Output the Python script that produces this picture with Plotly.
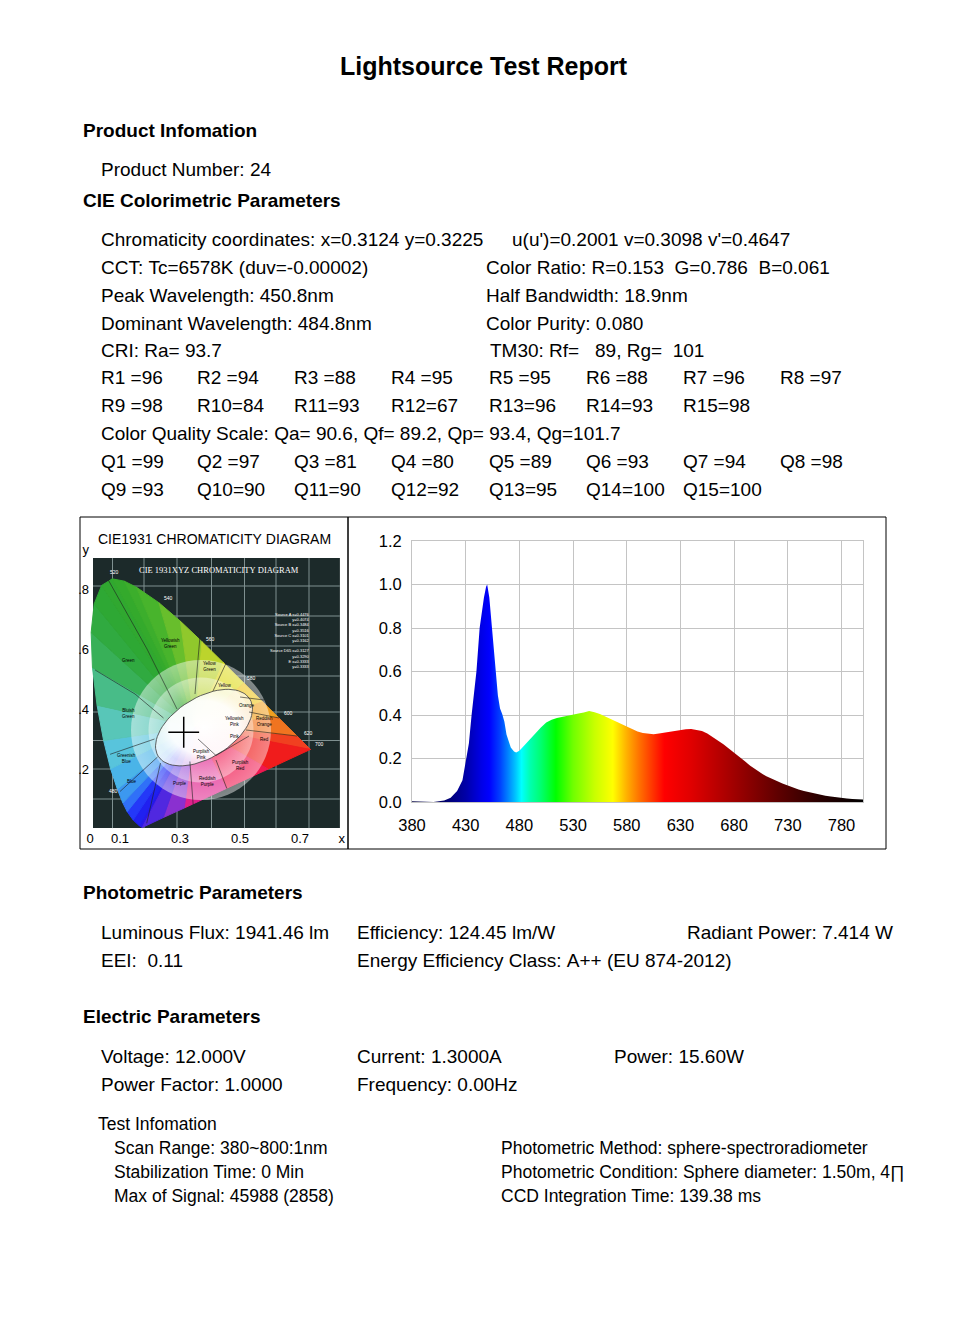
import numpy as np
import plotly.graph_objects as go

# ---- report values ----
title = "Lightsource Test Report"
headers = ["Product Infomation", "CIE Colorimetric Parameters",
           "Photometric Parameters", "Electric Parameters"]
product_number = "Product Number: 24"

colorimetric_left = ["Chromaticity coordinates: x=0.3124 y=0.3225",
                     "CCT: Tc=6578K (duv=-0.00002)",
                     "Peak Wavelength: 450.8nm",
                     "Dominant Wavelength: 484.8nm",
                     "CRI: Ra= 93.7"]
colorimetric_right = ["u(u')=0.2001 v=0.3098 v'=0.4647",
                      "Color Ratio: R=0.153  G=0.786  B=0.061",
                      "Half Bandwidth: 18.9nm",
                      "Color Purity: 0.080",
                      "TM30: Rf=   89, Rg=  101"]
r_values = [96, 94, 88, 95, 95, 88, 96, 97, 98, 84, 93, 67, 96, 93, 98]
cqs_line = "Color Quality Scale: Qa= 90.6, Qf= 89.2, Qp= 93.4, Qg=101.7"
q_values = [99, 97, 81, 80, 89, 93, 94, 98, 93, 90, 90, 92, 95, 100, 100]

photometric = ["Luminous Flux: 1941.46 lm", "Efficiency: 124.45 lm/W",
               "Radiant Power: 7.414 W", "EEI:  0.11",
               "Energy Efficiency Class: A++ (EU 874-2012)"]
electric = ["Voltage: 12.000V", "Current: 1.3000A", "Power: 15.60W",
            "Power Factor: 1.0000", "Frequency: 0.00Hz"]
test_title = "Test Infomation"
test_left = ["Scan Range: 380~800:1nm", "Stabilization Time: 0 Min",
             "Max of Signal: 45988 (2858)"]
test_right = ["Photometric Method: sphere-spectroradiometer",
              "Photometric Condition: Sphere diameter: 1.50m, 4\u220f",
              "CCD Integration Time: 139.38 ms"]

# ---- relative spectrum ----
wavelength = [380, 384, 388, 395, 400, 405, 410, 416, 422, 427, 430.5, 433,
              435.5, 438, 440, 443, 445, 447, 449, 450, 452, 454, 456, 458, 460,
              462, 464, 466, 468, 470, 472, 475, 477, 480, 485, 490, 495, 500,
              505, 510, 515, 520, 525, 530, 535, 540, 545, 550, 555, 560, 565,
              570, 575, 580, 585, 590, 595, 600, 605, 610, 615, 620, 625, 630,
              635, 640, 645, 650, 655, 660, 665, 670, 675, 680, 685, 690, 695,
              700, 705, 710, 715, 720, 725, 730, 735, 740, 745, 750, 755, 760,
              765, 770, 775, 780, 785, 790, 795, 800]
relative = [0.004, 0.003, 0.0, 0.0, 0.0, 0.004, 0.007, 0.02, 0.05, 0.10, 0.20,
            0.27, 0.40, 0.52, 0.60, 0.80, 0.88, 0.94, 0.99, 1.0, 0.94, 0.83,
            0.72, 0.60, 0.49, 0.43, 0.405, 0.37, 0.31, 0.28, 0.25, 0.232,
            0.228, 0.236, 0.262, 0.29, 0.318, 0.343, 0.365, 0.378, 0.386,
            0.392, 0.397, 0.402, 0.407, 0.412, 0.418, 0.413, 0.405, 0.393,
            0.382, 0.37, 0.358, 0.347, 0.335, 0.324, 0.317, 0.313, 0.312,
            0.315, 0.319, 0.324, 0.328, 0.332, 0.335, 0.336, 0.333, 0.327,
            0.315, 0.30, 0.284, 0.266, 0.246, 0.225, 0.206, 0.187, 0.167,
            0.148, 0.133, 0.118, 0.106, 0.095, 0.085, 0.076, 0.066, 0.057,
            0.050, 0.044, 0.039, 0.034, 0.029, 0.025, 0.021, 0.018, 0.016,
            0.014, 0.012, 0.011]

# ---- CIE 1931 chromaticity ----
chroma_x, chroma_y = 0.3124, 0.3225
locus_nm = [380, 440, 460, 470, 475, 480, 485, 490, 495, 500, 505, 510, 515,
            520, 525, 530, 540, 550, 560, 570, 580, 590, 600, 620, 700]
locus_x = [0.1741, 0.1644, 0.1440, 0.1241, 0.1096, 0.0913, 0.0687, 0.0454,
           0.0235, 0.0082, 0.0039, 0.0139, 0.0389, 0.0743, 0.1142, 0.1547,
           0.2296, 0.3016, 0.3731, 0.4441, 0.5125, 0.5752, 0.6270, 0.6915,
           0.7347]
locus_y = [0.0050, 0.0109, 0.0297, 0.0578, 0.0868, 0.1327, 0.2007, 0.2950,
           0.4127, 0.5384, 0.6548, 0.7502, 0.8120, 0.8338, 0.8262, 0.8059,
           0.7543, 0.6923, 0.6245, 0.5547, 0.4866, 0.4242, 0.3725, 0.3083,
           0.2653]
purple_x = [0.594, 0.454, 0.314, 0.244]
purple_y = [0.200, 0.135, 0.070, 0.038]

# ---- styling ----
FONT = "Liberation Sans, Arial, sans-serif"
W, H = 968, 1331

locus_colors = ["#2818e8", "#2020f0", "#2438f8", "#3070f8", "#3c98f0", "#4ab4e8",
                "#58c4dc", "#58c6b8", "#48bc88", "#38b058", "#30aa40", "#2ea834",
                "#30a830", "#34aa2c", "#3cae2c", "#48b42c", "#68be2c", "#90c82c",
                "#bcd42c", "#e0dc24", "#f0c820", "#f0a020", "#f07420", "#f04020",
                "#f01c1c"]
purple_colors = ["#f01850", "#e0208c", "#8a30d0", "#5028e0"]

spec_stops = [(380, "#000040"), (410, "#000068"), (430, "#0000a8"), (445, "#0000e8"),
              (452, "#0000ff"), (462, "#0040ff"), (470, "#0088ff"), (476, "#00c0ff"),
              (482, "#00ffff"), (490, "#00ffb0"), (500, "#00ff70"), (514, "#00ff00"),
              (530, "#70ff00"), (550, "#c8ff00"), (567, "#ffff00"), (580, "#ffb000"),
              (592, "#ff7000"), (605, "#ff3000"), (615, "#ff0000"), (640, "#e00000"),
              (680, "#a00000"), (720, "#600000"), (760, "#280000"), (800, "#000000")]


def px(x):
    return x / W


def py(y):
    return 1 - y / H


def nb(s):
    return s.replace(" ", "\u00a0")


fig = go.Figure()

# spectrum with rainbow fill
fig.add_trace(go.Scatter(
    x=wavelength, y=relative, mode="lines", fill="tozeroy",
    line=dict(width=0, color="#000030"),
    fillgradient=dict(type="horizontal", start=380, stop=800,
                      colorscale=[[(w - 380) / 420, c] for w, c in spec_stops]),
    hoverinfo="skip", xaxis="x", yaxis="y"))

# CIE diagram: colour fan from the centre to the boundary
bx = locus_x + purple_x + [locus_x[0]]
by = locus_y + purple_y + [locus_y[0]]
bc = locus_colors + purple_colors
cx, cy = 0.35, 0.34
for i in range(len(bx) - 1):
    fig.add_trace(go.Scatter(
        x=[cx, bx[i], bx[i + 1], cx], y=[cy, by[i], by[i + 1], cy],
        mode="lines", fill="toself", fillcolor=bc[i],
        line=dict(color=bc[i], width=1), hoverinfo="skip",
        xaxis="x2", yaxis="y2"))

# soft white glow, then the white ellipse
for size, alpha in [(140, 0.45), (105, 0.4)]:
    fig.add_trace(go.Scatter(
        x=[0.37], y=[0.33], mode="markers",
        marker=dict(size=size, color=f"rgba(255,255,255,{alpha})",
                    gradient=dict(type="radial", color="rgba(255,255,255,0)"),
                    line=dict(width=0)),
        hoverinfo="skip", xaxis="x2", yaxis="y2"))

t = np.linspace(0, 2 * np.pi, 73)
th = np.radians(32)
ex = 0.38 + 0.18 * np.cos(t) * np.cos(th) - 0.1 * np.sin(t) * np.sin(th)
ey = 0.338 + 0.18 * np.cos(t) * np.sin(th) + 0.1 * np.sin(t) * np.cos(th)
fig.add_trace(go.Scatter(
    x=ex, y=ey, mode="lines", fill="toself",
    line=dict(color="rgba(70,70,70,0.85)", width=1),
    fillgradient=dict(type="radial",
                      colorscale=[[0, "rgba(255,255,255,1)"],
                                  [0.7, "rgba(255,255,255,0.95)"],
                                  [1, "rgba(255,255,255,0.65)"]]),
    hoverinfo="skip", xaxis="x2", yaxis="y2"))

# colour region borders
region_lines = [
    [(0.061, 0.83), (0.19, 0.60), (0.29, 0.40)],
    [(0.017, 0.53), (0.15, 0.45), (0.245, 0.37)],
    [(0.067, 0.249), (0.215, 0.30)],
    [(0.367, 0.647), (0.35, 0.45)],
    [(0.456, 0.558), (0.41, 0.46)],
    [(0.235, 0.22), (0.189, 0.019)],
    [(0.225, 0.24), (0.10, 0.125)],
    [(0.333, 0.225), (0.344, 0.08)],
    [(0.42, 0.23), (0.456, 0.135)],
    [(0.52, 0.33), (0.69, 0.31)],
    [(0.53, 0.39), (0.63, 0.37)],
    [(0.50, 0.44), (0.58, 0.43)],
    [(0.36, 0.30), (0.42, 0.245), (0.53, 0.31)],
]
lx, ly = [], []
for seg in region_lines:
    lx += [p[0] for p in seg] + [None]
    ly += [p[1] for p in seg] + [None]
fig.add_trace(go.Scatter(x=lx, y=ly, mode="lines",
                         line=dict(color="rgba(30,30,30,0.75)", width=0.8),
                         hoverinfo="skip", xaxis="x2", yaxis="y2"))

fig.add_trace(go.Scatter(
    x=[chroma_x], y=[chroma_y], mode="markers",
    marker=dict(symbol="cross-thin", size=22, line=dict(color="black", width=1.5)),
    hoverinfo="skip", xaxis="x2", yaxis="y2"))

shapes = []
# dark picture background + its grid
shapes.append(dict(type="rect", xref="x2", yref="y2", x0=0.01, x1=0.833,
                   y0=0.003, y1=0.903, fillcolor="#1c2a2a", line=dict(width=0),
                   layer="below"))
for gx in [0.075, 0.18, 0.29, 0.405, 0.515, 0.62, 0.73]:
    shapes.append(dict(type="line", xref="x2", yref="y2", x0=gx, x1=gx,
                       y0=0.003, y1=0.903, line=dict(color="#7f9090", width=1),
                       layer="below"))
for gy in [0.1, 0.2, 0.295, 0.39, 0.51, 0.61, 0.71, 0.81]:
    shapes.append(dict(type="line", xref="x2", yref="y2", x0=0.01, x1=0.833,
                       y0=gy, y1=gy, line=dict(color="#7f9090", width=1),
                       layer="below"))
# panel frames
for x0, x1 in [(80, 348), (348, 886)]:
    shapes.append(dict(type="rect", xref="paper", yref="paper",
                       x0=px(x0), x1=px(x1), y0=py(849), y1=py(517),
                       line=dict(color="black", width=1)))

annotations = []


def text(s, x, y, size=19, bold=False, anchor="left", color="black",
         family=FONT, xref="paper", yref="paper"):
    if xref == "paper":
        x, y = px(x), py(y)
    annotations.append(dict(
        text=("<b>%s</b>" % nb(s)) if bold else nb(s), x=x, y=y, xref=xref,
        yref=yref, xanchor=anchor, yanchor="middle", showarrow=False,
        font=dict(size=size, color=color, family=family)))


text(title, 484, 66, size=25, bold=True, anchor="center")
text(headers[0], 81, 131, bold=True)
text(product_number, 99, 170)
text(headers[1], 81, 200, bold=True)

rows_y = [240, 267, 295, 323, 350]
right_x = [510, 484, 484, 484, 488]
for s, y in zip(colorimetric_left, rows_y):
    text(s, 99, y)
for s, x, y in zip(colorimetric_right, right_x, rows_y):
    text(s, x, y)

cols = [99, 195, 292, 389, 487, 584, 681, 778]
for i, v in enumerate(r_values):
    text(f"R{i + 1}".ljust(3) + f"={v}", cols[i % 8], 378 if i < 8 else 405)
text(cqs_line, 99, 433)
for i, v in enumerate(q_values):
    text(f"Q{i + 1}".ljust(3) + f"={v}", cols[i % 8], 461 if i < 8 else 489)

# CIE panel texts
text("CIE1931 CHROMATICITY DIAGRAM", 214, 539, size=14, anchor="center")
text("CIE 1931XYZ CHROMATICITY DIAGRAM", 0.43, 0.863, size=8.5, anchor="center",
     color="white", family="Liberation Serif, serif", xref="x2", yref="y2")
for s, x, y in [("520", 0.083, 0.857), ("540", 0.261, 0.771), ("560", 0.40, 0.633),
                ("580", 0.539, 0.502), ("600", 0.661, 0.386), ("620", 0.728, 0.319),
                ("700", 0.764, 0.282), ("480", 0.078, 0.127)]:
    text(s, x, y, size=5, anchor="center", color="white", xref="x2", yref="y2")
for s, x, y in [("Green", 0.128, 0.561), ("Yellowish<br>Green", 0.267, 0.619),
                ("Yellow<br>Green", 0.40, 0.541), ("Bluish<br>Green", 0.128, 0.386),
                ("Greenish<br>Blue", 0.122, 0.236), ("Blue", 0.139, 0.158),
                ("Purple", 0.30, 0.152), ("Reddish<br>Purple", 0.39, 0.158),
                ("Purplish<br>Pink", 0.372, 0.249), ("Pink", 0.483, 0.308),
                ("Red", 0.583, 0.297), ("Purplish<br>Red", 0.50, 0.213),
                ("Yellowish<br>Pink", 0.483, 0.358), ("Reddish<br>Orange", 0.583, 0.358),
                ("Orange", 0.522, 0.411), ("Yellow", 0.45, 0.48)]:
    annotations.append(dict(text=s, x=x, y=y, xref="x2", yref="y2", showarrow=False,
                            font=dict(size=4.5, color="black", family=FONT)))
annotations.append(dict(
    text="Source A x=0.4476<br>y=0.4074<br>Source B x=0.3484<br>y=0.3516<br>"
         "Source C x=0.3101<br>y=0.3162<br><br>Source D65 x=0.3127<br>y=0.3290<br>"
         "E x=0.3333<br>y=0.3333",
    x=0.665, y=0.63, xref="x2", yref="y2", showarrow=False, align="right",
    font=dict(size=4, color="white", family=FONT)))

text(headers[2], 81, 892, bold=True)
text(photometric[0], 99, 932)
text(photometric[1], 355, 932)
text(photometric[2], 685, 932)
text(photometric[3], 99, 960)
text(photometric[4], 355, 960)

text(headers[3], 81, 1016, bold=True)
text(electric[0], 99, 1056)
text(electric[1], 355, 1056)
text(electric[2], 612, 1056)
text(electric[3], 99, 1084)
text(electric[4], 355, 1084)

text(test_title, 96, 1124, size=17.5)
for s, y in zip(test_left, [1148, 1172, 1196]):
    text(s, 112, y, size=17.5)
for s, y in zip(test_right, [1148, 1172, 1196]):
    text(s, 499, y, size=17.5)

fig.update_layout(
    width=W, height=H, margin=dict(l=0, r=0, t=0, b=0, pad=0, autoexpand=False),
    paper_bgcolor="white", plot_bgcolor="white", showlegend=False,
    font=dict(family=FONT, color="black"),
    shapes=shapes, annotations=annotations,
    xaxis=dict(domain=[px(412), px(863)], anchor="y", range=[380, 800],
               tickvals=list(range(380, 781, 50)), showgrid=True,
               gridcolor="#c4c4c4", showline=True, linecolor="#c4c4c4",
               mirror=True, zeroline=False, ticks="", ticklabelstandoff=8,
               tickfont=dict(size=16.5), automargin=False),
    yaxis=dict(domain=[py(802), py(541)], anchor="x", range=[0, 1.2],
               tickvals=[0, 0.2, 0.4, 0.6, 0.8, 1.0, 1.2], tickformat=".1f",
               showgrid=True, gridcolor="#c4c4c4", showline=True,
               linecolor="#c4c4c4", mirror=True, zeroline=False, ticks="",
               ticklabelstandoff=6, tickfont=dict(size=16.5), automargin=False),
    xaxis2=dict(domain=[px(90), px(342)], anchor="y2", range=[0, 0.84],
                tickvals=[0.0005, 0.1, 0.3, 0.5, 0.7, 0.8395],
                ticktext=["0", "0.1", "0.3", "0.5", "0.7", "x"],
                showgrid=False, zeroline=False, showline=False, ticks="",
                tickfont=dict(size=13), automargin=False),
    yaxis2=dict(domain=[py(829), py(544)], anchor="x2", range=[0, 0.95],
                tickvals=[0.2, 0.4, 0.6, 0.8, 0.933],
                ticktext=[".2", ".4", ".6", ".8", "y"],
                showgrid=False, zeroline=False, showline=False, ticks="",
                tickfont=dict(size=13), automargin=False),
)

fig.write_html("out.html", post_script="document.body.style.margin='0';",
               config=dict(displayModeBar=False))
